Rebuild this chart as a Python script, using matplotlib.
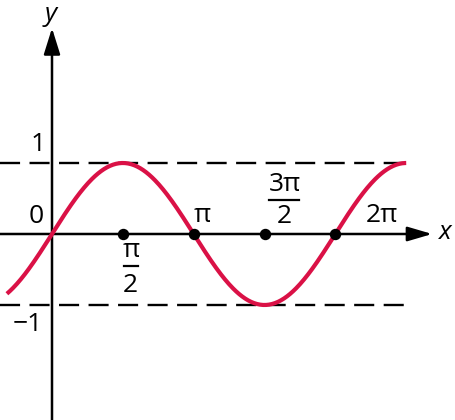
import numpy as np
import matplotlib
matplotlib.use('Agg')
import matplotlib.pyplot as plt
from matplotlib.lines import Line2D
from matplotlib.transforms import IdentityTransform

plt.rcParams['font.family'] = ['Open Sans', 'DejaVu Sans']

# data
x_start = -1.0             # where the curve begins on the left
x_end = 5 * np.pi / 2      # where the curve stops on the right
tick_vals = [np.pi / 2, np.pi, 3 * np.pi / 2, 2 * np.pi]
levels = [1, -1]

RED = '#DA1146'
FS = 19

fig = plt.figure(figsize=(4.55, 4.2), dpi=100)
ax = fig.add_axes([0, 0, 1, 1])
ax.set_xlim(-1.153, 8.936)
ax.set_ylim(-2.62, 3.296)
ax.axis('off')

# dashed lines y = 1 and y = -1
for lv in levels:
    ax.plot([-1.153, 7.9], [lv, lv], color='black', lw=1.7, dashes=(8.5, 4))

# axes with arrows
ax.annotate('', xy=(8.43, 0), xytext=(-1.153, 0),
            arrowprops=dict(arrowstyle='-|>,head_length=0.75,head_width=0.22',
                            mutation_scale=20, lw=1.8, color='black',
                            shrinkA=0, shrinkB=0))
ax.annotate('', xy=(0, 2.90), xytext=(0, -2.62),
            arrowprops=dict(arrowstyle='-|>,head_length=0.8,head_width=0.25',
                            mutation_scale=20, lw=1.8, color='black',
                            shrinkA=0, shrinkB=0))

# sine curve
xs = np.linspace(x_start, x_end, 400)
ax.plot(xs, np.sin(xs), color=RED, lw=3.0, solid_capstyle='butt', zorder=3)

# dots on the x axis
ax.plot(tick_vals, [0] * len(tick_vals), 'o', color='black', ms=7.2, zorder=4)


def lab(s, xy, dx, dy, italic=False):
    ax.annotate(s, xy=xy, xytext=(dx, dy), textcoords='offset pixels',
                ha='center', va='center', fontsize=FS,
                style='italic' if italic else 'normal')


def bar(xy, dx1, dx2, dy):
    px, py = ax.transData.transform(xy)
    fig.add_artist(Line2D([px + dx1, px + dx2], [py + dy, py + dy],
                          transform=IdentityTransform(), color='black', lw=1.6))


# labels
lab('0', (0, 0), -16, 17)
lab('1', (0, 1), -14, 19)
lab('\u22121', (0, -1), -24, -20)

lab('\u03c0', (tick_vals[0], 0), 8, -17)
bar((tick_vals[0], 0), 1, 15, -32)
lab('2', (tick_vals[0], 0), 7, -52)

lab('\u03c0', (tick_vals[1], 0), 9, 18)

lab('3\u03c0', (tick_vals[2], 0), 20, 49)
bar((tick_vals[2], 0), 4.5, 34.5, 34)
lab('2', (tick_vals[2], 0), 20, 17)

lab('2\u03c0', (tick_vals[3], 0), 47, 18)

lab('x', (8.43, 0), 13, 1, italic=True)
lab('y', (0, 2.90), -1, 14, italic=True)

fig.savefig('out.png', dpi=100)
